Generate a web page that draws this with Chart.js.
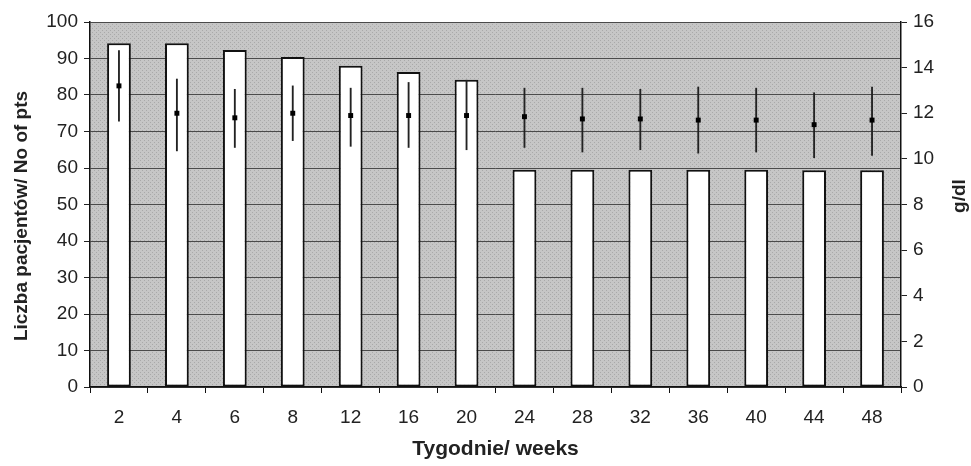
<!DOCTYPE html>
<html>
<head>
<meta charset="utf-8">
<script src="https://cdn.jsdelivr.net/npm/chart.js@4"></script>
<style>
  html, body { margin: 0; padding: 0; background: #fff; }
  #wrap { width: 971px; height: 466px; }
</style>
</head>
<body>
<div id="wrap"><canvas id="chart"></canvas></div>
<script>
// Data
const weeks = ['2', '4', '6', '8', '12', '16', '20', '24', '28', '32', '36', '40', '44', '48'];
const patients = [94.2, 94.2, 92.3, 90.4, 88, 86.3, 84.2, 59.5, 59.5, 59.5, 59.5, 59.5, 59.4, 59.4];
const hbMean = [13.2, 12.0, 11.8, 12.0, 11.9, 11.9, 11.9, 11.85, 11.75, 11.75, 11.7, 11.7, 11.5, 11.7];
const hbLow = [11.65, 10.35, 10.5, 10.8, 10.55, 10.5, 10.4, 10.5, 10.3, 10.4, 10.25, 10.3, 10.05, 10.15];
const hbHigh = [14.75, 13.5, 13.05, 13.2, 13.1, 13.35, 13.45, 13.1, 13.1, 13.05, 13.15, 13.1, 12.9, 13.15];
const leftTicks = [0, 100, 10];
const rightTicks = [0, 16, 2];

const FONT = '"Liberation Sans", Arial, sans-serif';

// dotted grey texture for the plot area
function makePattern(ctx) {
    const c = document.createElement('canvas');
    c.width = 4; c.height = 4;
    const p = c.getContext('2d');
    p.fillStyle = '#c6c6c6';
    p.fillRect(0, 0, 4, 4);
    p.fillStyle = '#a9a9a9';
    p.fillRect(0, 0, 1, 1);
    p.fillRect(2, 2, 1, 1);
    return ctx.createPattern(c, 'repeat');
}

function drawVerticalTitle(ctx, text, x, y) {
    ctx.save();
    ctx.translate(x, y);
    ctx.rotate(-Math.PI / 2);
    ctx.font = 'bold 19px ' + FONT;
    ctx.fillStyle = '#222';
    ctx.textAlign = 'center';
    ctx.textBaseline = 'middle';
    ctx.fillText(text, 0, 0);
    ctx.restore();
}

const plotBackground = {
    id: 'plotBackground',
    beforeDraw(chart) {
        const { ctx, chartArea: a } = chart;
        ctx.save();
        ctx.fillStyle = makePattern(ctx);
        ctx.fillRect(a.left, a.top, a.right - a.left, a.bottom - a.top);
        ctx.restore();
    },
    afterDraw(chart) {
        // both axis titles read bottom to top
        drawVerticalTitle(chart.ctx, 'Liczba pacjentów/ No of pts', 22, 216);
        drawVerticalTitle(chart.ctx, 'g/dl', 960, 196);
    }
};

new Chart(document.getElementById('chart'), {
    data: {
        labels: weeks,
        datasets: [
            {
                type: 'line',
                label: 'Hb mean',
                data: hbMean,
                yAxisID: 'y1',
                showLine: false,
                pointStyle: 'rect',
                pointRadius: 3.5,
                pointBackgroundColor: '#000',
                pointBorderWidth: 0,
                order: 1
            },
            {
                type: 'bar',
                label: 'Hb range',
                data: hbLow.map((v, i) => [v, hbHigh[i]]),
                yAxisID: 'y1',
                grouped: false,
                barThickness: 1.2,
                backgroundColor: '#222',
                borderWidth: 0,
                order: 2
            },
            {
                type: 'bar',
                label: 'Liczba pacjentów',
                data: patients,
                yAxisID: 'y',
                backgroundColor: '#fff',
                borderColor: '#111',
                borderWidth: 2,
                borderSkipped: false,
                categoryPercentage: 1,
                barPercentage: 0.41,
                order: 3
            }
        ]
    },
    options: {
        responsive: true,
        maintainAspectRatio: false,
        animation: false,
        layout: { padding: { top: 22, bottom: 0, left: 0, right: 0 } },
        plugins: {
            legend: { display: false },
            tooltip: { enabled: false }
        },
        scales: {
            x: {
                offset: true,
                grid: { display: true, drawOnChartArea: false, offset: true, tickLength: 6, color: '#111' },
                border: { display: true, color: '#111', width: 1.5 },
                ticks: { color: '#222', padding: 13, font: { family: FONT, size: 19 } },
                title: {
                    display: true,
                    text: 'Tygodnie/ weeks',
                    color: '#222',
                    padding: { top: 5 },
                    font: { family: FONT, size: 21, weight: 'bold' }
                },
                afterFit(scale) { scale.height = 79; }
            },
            y: {
                position: 'left',
                min: leftTicks[0],
                max: leftTicks[1],
                ticks: { stepSize: leftTicks[2], color: '#222', padding: 6, font: { family: FONT, size: 19 } },
                grid: { color: '#4a4a4a', lineWidth: 1, tickLength: 6, tickColor: '#222' },
                border: { display: true, color: '#111', width: 1.5 },
                afterFit(scale) { scale.width = 90; }
            },
            y1: {
                position: 'right',
                min: rightTicks[0],
                max: rightTicks[1],
                ticks: { stepSize: rightTicks[2], color: '#222', padding: 6, font: { family: FONT, size: 19 } },
                grid: { drawOnChartArea: false, tickLength: 6, color: '#222' },
                border: { display: true, color: '#111', width: 1.5 },
                afterFit(scale) { scale.width = 70; }
            }
        }
    },
    plugins: [plotBackground]
});
</script>
</body>
</html>
